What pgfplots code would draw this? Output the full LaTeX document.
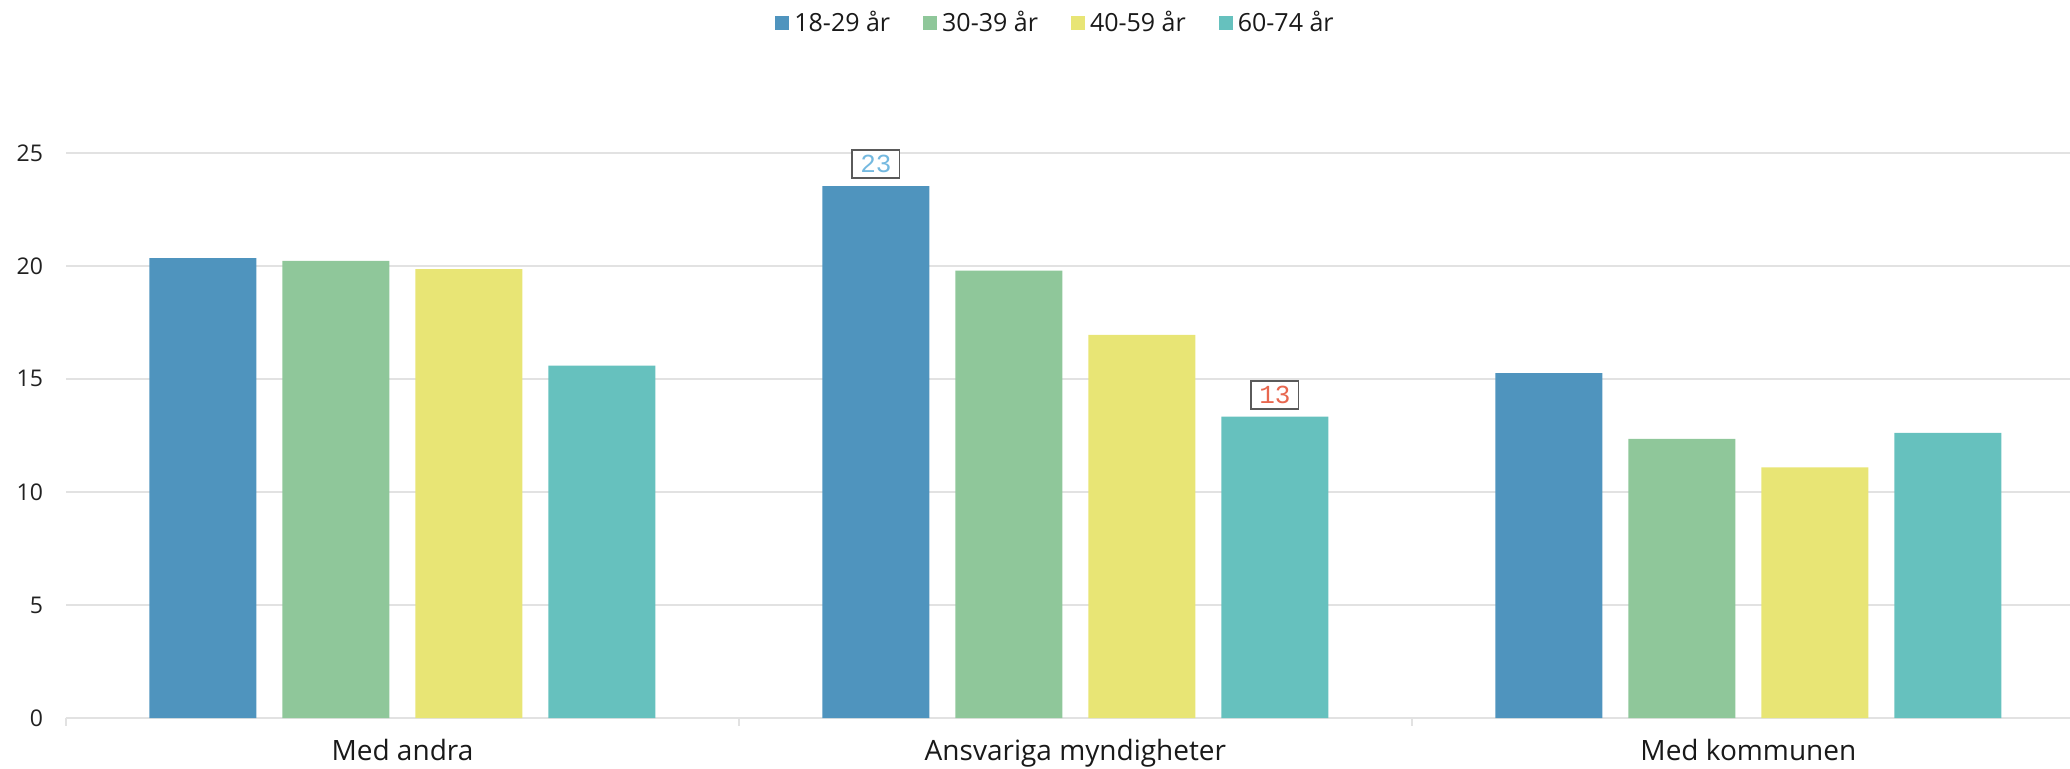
\documentclass[border=0pt]{standalone}
\usepackage{fontspec}
\setmainfont{Open Sans}
\newfontfamily\monofont{Liberation Mono}
\usepackage{pgfplots}
\pgfplotsset{compat=1.18}
\definecolor{cA}{RGB}{79,148,190}
\definecolor{cB}{RGB}{143,199,154}
\definecolor{cC}{RGB}{232,229,117}
\definecolor{cD}{RGB}{102,193,190}
\definecolor{gridc}{RGB}{226,226,226}
\definecolor{lblA}{RGB}{116,185,224}
\definecolor{lblD}{RGB}{232,103,79}
\definecolor{boxc}{RGB}{90,90,90}
\begin{document}
\begin{tikzpicture}
\begin{axis}[
  at={(0,0)}, anchor=south west,
  scale only axis, width=1002pt, height=282.6pt,
  xmin=-0.5, xmax=2.478, ymin=0, ymax=25,
  xtick={0,1,2},
  xticklabels={Med andra, Ansvariga myndigheter, Med kommunen},
  major tick length=0pt,
  extra x ticks={-0.5,0.5,1.5},
  extra x tick labels={},
  extra x tick style={grid=none, major tick length=4pt, tick align=outside},
  xtick style={draw=gridc, line width=1pt},
  ytick={0,5,10,15,20,25},
  ytick style={draw=none},
  ymajorgrids, grid style={draw=gridc, line width=1pt},
  axis x line*=bottom, axis y line*=left,
  x axis line style={draw=gridc, line width=1pt, -},
  y axis line style={draw=none},
  /pgf/number format/assume math mode=true,
  yticklabel style={font=\fontsize{11.5}{12}\selectfont, text=black!87, xshift=-8pt},
  xticklabel style={font=\fontsize{14}{16}\selectfont, text=black!90, yshift=-7pt},
  legend columns=4,
  legend style={draw=none, fill=none, at={(0.4945,1.2297)}, anchor=center,
    font=\fontsize{12.5}{14}\selectfont, text=black!90,
    /tikz/every even column/.style={column sep=14pt},
    nodes={inner xsep=2.5pt, inner ysep=1pt}},
  legend cell align=left,
  legend image code/.code={\path[#1, draw=none] (0pt,-3.5pt) rectangle (7pt,3.5pt);},
]
\addplot[ybar, bar width=53.5pt, bar shift=-99.75pt, fill=cA, draw=none]
  coordinates {(0,20.34) (1,23.53) (2,15.25)};
\addlegendentry{18-29 år}
\addplot[ybar, bar width=53.5pt, bar shift=-33.25pt, fill=cB, draw=none]
  coordinates {(0,20.22) (1,19.79) (2,12.35)};
\addlegendentry{30-39 år}
\addplot[ybar, bar width=53.5pt, bar shift=33.25pt, fill=cC, draw=none]
  coordinates {(0,19.85) (1,16.95) (2,11.09)};
\addlegendentry{40-59 år}
\addplot[ybar, bar width=53.5pt, bar shift=99.75pt, fill=cD, draw=none]
  coordinates {(0,15.59) (1,13.33) (2,12.61)};
\addlegendentry{60-74 år}
% data labels
\addplot[draw=none, mark=none, forget plot,
  point meta=explicit symbolic, nodes near coords,
  nodes near coords style={font=\monofont\fontsize{13}{13}\selectfont, text=lblA,
    draw=boxc, line width=0.9pt, fill=white, inner xsep=4pt, inner ysep=2.75pt,
    text height=8.5pt, text depth=0pt, anchor=south, xshift=-99.75pt, yshift=3.5pt}]
  coordinates {(1,23.53) [23]};
\addplot[draw=none, mark=none, forget plot,
  point meta=explicit symbolic, nodes near coords,
  nodes near coords style={font=\monofont\fontsize{13}{13}\selectfont, text=lblD,
    draw=boxc, line width=0.9pt, fill=white, inner xsep=4pt, inner ysep=2.75pt,
    text height=8.5pt, text depth=0pt, anchor=south, xshift=99.75pt, yshift=3.5pt}]
  coordinates {(1,13.33) [13]};
\end{axis}
\pgfresetboundingbox
\path[use as bounding box] (-33pt,-25pt) rectangle (1002pt,359pt);
\end{tikzpicture}
\end{document}
